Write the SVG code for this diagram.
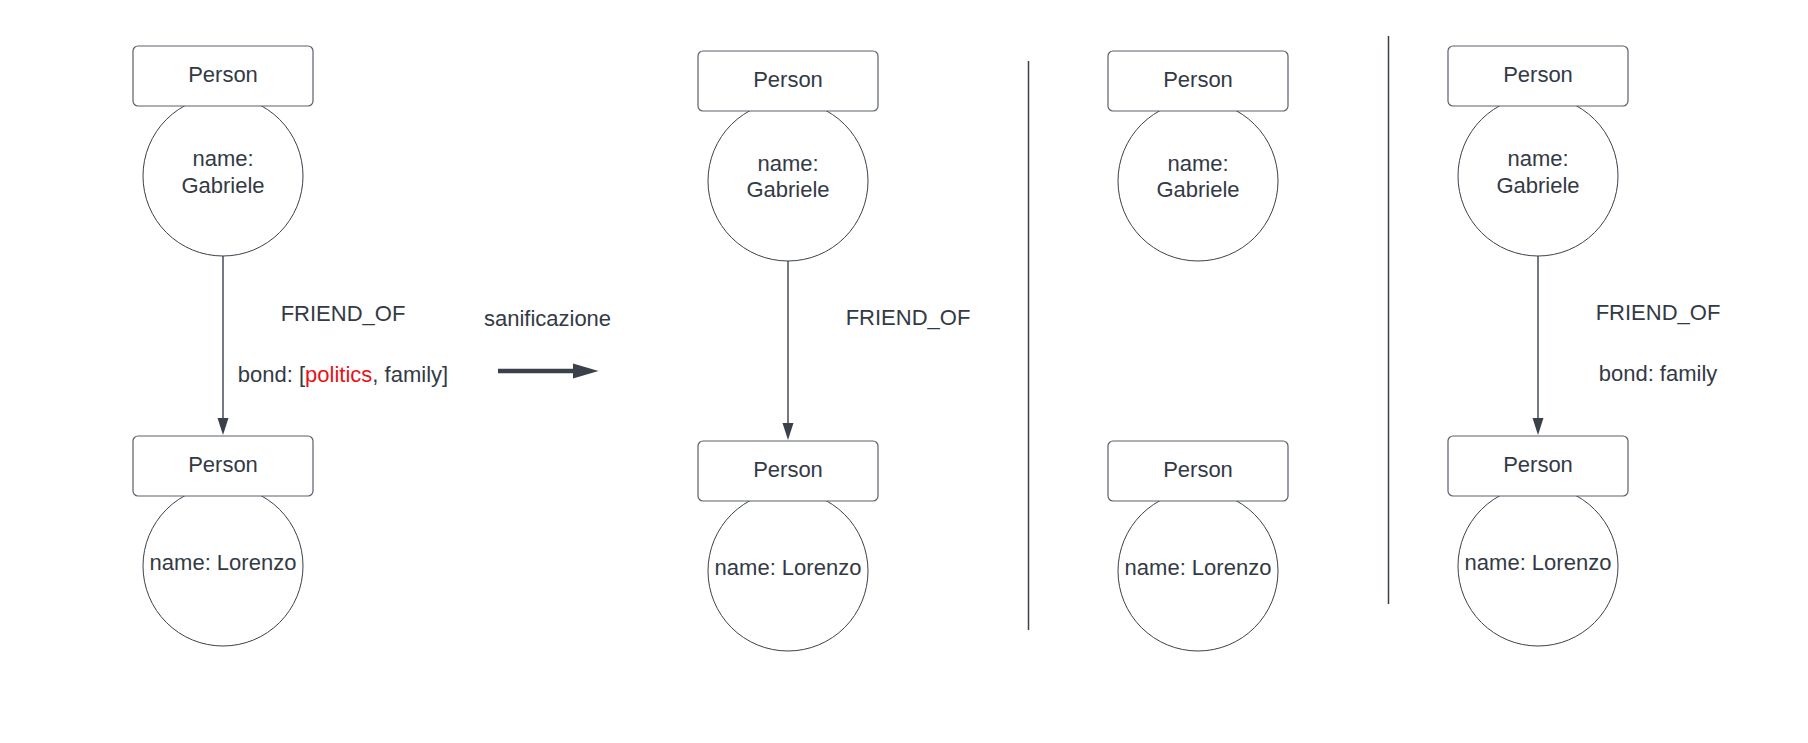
<svg xmlns="http://www.w3.org/2000/svg" width="1808" height="743" viewBox="0 0 1808 743">
<style>
  text { font-family: "Liberation Sans", Arial, sans-serif; font-size: 22px; fill: #333a45; text-anchor: middle; }
  .lbl { fill: #ffffff; stroke: #5a606b; stroke-width: 1.2; }
  .prop { fill: #ffffff; stroke: #3a414a; stroke-width: 1; }
  .edge { stroke: #3a414a; stroke-width: 1.4; fill: none; }
  .div { stroke: #3a414a; stroke-width: 1.5; }
  .red { fill: #e81313; }
</style>
<defs>
  <marker id="ah" markerWidth="10" markerHeight="16" refX="10" refY="5" orient="auto" markerUnits="userSpaceOnUse" viewBox="0 0 16 10">
    <path d="M0,0 L16,5 L0,10 Z" fill="#3a414a"/>
  </marker>
</defs>
<rect width="1808" height="743" fill="#ffffff"/>

<g id="connectors">
  <path class="edge" d="M223,256 L223,420"/>
  <path d="M217.5,418 L228.5,418 L223,435 Z" fill="#3a414a"/>
  <path class="edge" d="M788,261 L788,425"/>
  <path d="M782.5,423 L793.5,423 L788,440 Z" fill="#3a414a"/>
  <path class="edge" d="M1538,256 L1538,420"/>
  <path d="M1532.5,418 L1543.5,418 L1538,435 Z" fill="#3a414a"/>
</g>

<g id="edge-labels">
  <text x="343" y="321">FRIEND_OF</text>
  <text x="343" y="382">bond: [<tspan class="red">politics</tspan>, family]</text>
  <text x="908" y="325">FRIEND_OF</text>
  <text x="1658" y="320">FRIEND_OF</text>
  <text x="1658" y="381">bond: family</text>
</g>

<g id="transform">
  <text x="547.5" y="326">sanificazione</text>
  <line x1="498" y1="371" x2="575" y2="371" stroke="#3a414a" stroke-width="4.5"/>
  <path d="M573,363.5 L598.5,371 L573,378.5 Z" fill="#3a414a"/>
</g>

<g id="dividers">
  <line class="div" x1="1028.5" y1="61" x2="1028.5" y2="630"/>
  <line class="div" x1="1388.5" y1="36" x2="1388.5" y2="604"/>
</g>

<!-- column 1 -->
<g id="c1-gabriele">
  <circle class="prop" cx="223" cy="176" r="80"/>
  <rect class="lbl" x="133" y="46" width="180" height="60" rx="5"/>
  <text x="223" y="82">Person</text>
  <text x="223" y="166">name:</text>
  <text x="223" y="192.5">Gabriele</text>
</g>
<g id="c1-lorenzo">
  <circle class="prop" cx="223" cy="566" r="80"/>
  <rect class="lbl" x="133" y="436" width="180" height="60" rx="5"/>
  <text x="223" y="472">Person</text>
  <text x="223" y="570">name: Lorenzo</text>
</g>

<!-- column 2 -->
<g id="c2-gabriele">
  <circle class="prop" cx="788" cy="181" r="80"/>
  <rect class="lbl" x="698" y="51" width="180" height="60" rx="5"/>
  <text x="788" y="87">Person</text>
  <text x="788" y="171">name:</text>
  <text x="788" y="197">Gabriele</text>
</g>
<g id="c2-lorenzo">
  <circle class="prop" cx="788" cy="571" r="80"/>
  <rect class="lbl" x="698" y="441" width="180" height="60" rx="5"/>
  <text x="788" y="477">Person</text>
  <text x="788" y="575">name: Lorenzo</text>
</g>

<!-- column 3 -->
<g id="c3-gabriele">
  <circle class="prop" cx="1198" cy="181" r="80"/>
  <rect class="lbl" x="1108" y="51" width="180" height="60" rx="5"/>
  <text x="1198" y="87">Person</text>
  <text x="1198" y="171">name:</text>
  <text x="1198" y="197">Gabriele</text>
</g>
<g id="c3-lorenzo">
  <circle class="prop" cx="1198" cy="571" r="80"/>
  <rect class="lbl" x="1108" y="441" width="180" height="60" rx="5"/>
  <text x="1198" y="477">Person</text>
  <text x="1198" y="575">name: Lorenzo</text>
</g>

<!-- column 4 -->
<g id="c4-gabriele">
  <circle class="prop" cx="1538" cy="176" r="80"/>
  <rect class="lbl" x="1448" y="46" width="180" height="60" rx="5"/>
  <text x="1538" y="82">Person</text>
  <text x="1538" y="166">name:</text>
  <text x="1538" y="192.5">Gabriele</text>
</g>
<g id="c4-lorenzo">
  <circle class="prop" cx="1538" cy="566" r="80"/>
  <rect class="lbl" x="1448" y="436" width="180" height="60" rx="5"/>
  <text x="1538" y="472">Person</text>
  <text x="1538" y="570">name: Lorenzo</text>
</g>
</svg>
